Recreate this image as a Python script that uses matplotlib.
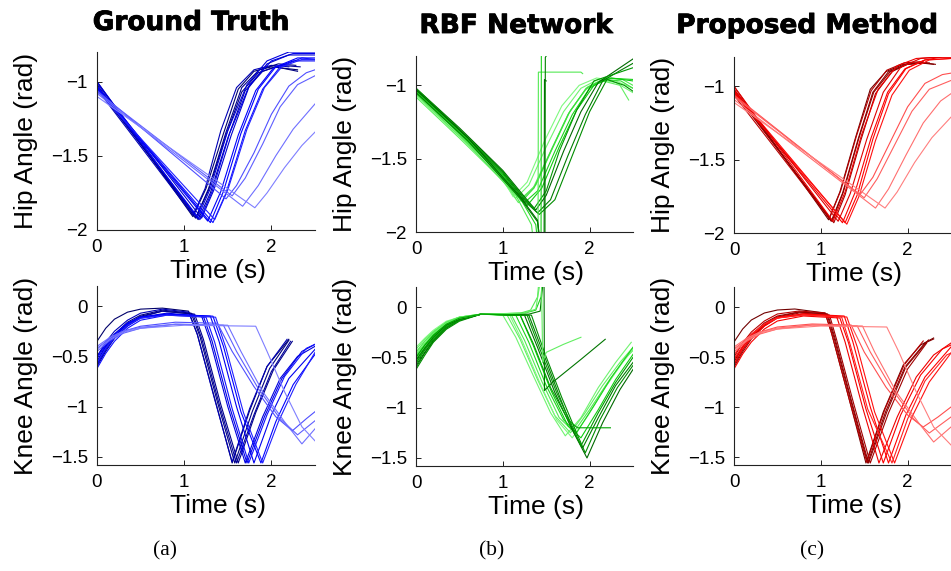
import matplotlib
matplotlib.use('Agg')
import matplotlib.pyplot as plt
import numpy as np
from matplotlib import patheffects as pe

# ---------------- data ----------------
column_titles = ['Ground Truth', 'RBF Network', 'Proposed Method']
captions = ['(a)', '(b)', '(c)']
x_ticks = [0, 1, 2]
x_tick_labels = ['0', '1', '2']
hip_ticks = [-2, -1.5, -1]
hip_tick_labels = ['\u22122', '\u22121.5', '\u22121']
knee_ticks = [-1.5, -1, -0.5, 0]
knee_tick_labels = ['\u22121.5', '\u22121', '\u22120.5', '0']

# Ground truth hip (time knots, values, shade 0=dark..1=light)
gt_hip_t = [
    [0, 1.10, 1.25, 1.45, 1.62, 1.80, 2.00, 2.30],
    [0, 1.13, 1.28, 1.48, 1.66, 1.85, 2.05, 2.30],
    [0, 1.16, 1.30, 1.50, 1.70, 1.90, 2.10, 2.33],
    [0, 1.10, 1.24, 1.42, 1.60, 1.80, 2.00, 2.20],
    [0, 1.14, 1.28, 1.48, 1.66, 1.86, 2.08, 2.28],
    [0, 1.15, 1.30, 1.50, 1.72, 1.95, 2.20, 2.50],
    [0, 1.18, 1.32, 1.52, 1.75, 2.00, 2.25, 2.50],
    [0, 1.20, 1.34, 1.54, 1.74, 1.95, 2.20, 2.50],
    [0, 1.30, 1.45, 1.65, 1.85, 2.05, 2.30, 2.50],
    [0, 1.33, 1.48, 1.70, 1.90, 2.10, 2.35, 2.50],
    [0, 1.27, 1.42, 1.62, 1.82, 2.02, 2.25, 2.50],
    [0, 1.35, 1.50, 1.72, 1.92, 2.12, 2.35, 2.50],
    [0, 1.48, 1.60, 1.80, 2.00, 2.20, 2.40, 2.50],
    [0, 1.55, 1.70, 1.90, 2.10, 2.30, 2.50],
    [0, 1.67, 1.85, 2.05, 2.25, 2.50],
    [0, 1.81, 1.95, 2.15, 2.35, 2.50],
]
gt_hip_v = [
    [-1.00, -1.91, -1.72, -1.35, -1.05, -0.93, -0.90, -0.92],
    [-1.02, -1.92, -1.73, -1.36, -1.07, -0.94, -0.90, -0.93],
    [-1.04, -1.93, -1.75, -1.38, -1.06, -0.93, -0.89, -0.90],
    [-1.05, -1.90, -1.72, -1.33, -1.04, -0.92, -0.89, -0.90],
    [-1.03, -1.91, -1.72, -1.34, -1.04, -0.92, -0.88, -0.89],
    [-1.00, -1.92, -1.72, -1.33, -1.02, -0.86, -0.80, -0.80],
    [-1.03, -1.93, -1.74, -1.35, -1.02, -0.86, -0.81, -0.81],
    [-1.01, -1.92, -1.73, -1.36, -1.04, -0.88, -0.82, -0.82],
    [-1.03, -1.95, -1.74, -1.35, -1.05, -0.90, -0.84, -0.84],
    [-1.05, -1.95, -1.75, -1.33, -1.05, -0.90, -0.84, -0.85],
    [-1.04, -1.94, -1.74, -1.36, -1.06, -0.91, -0.86, -0.86],
    [-1.06, -1.93, -1.73, -1.32, -1.04, -0.90, -0.85, -0.85],
    [-1.06, -1.79, -1.70, -1.48, -1.22, -1.03, -0.94, -0.92],
    [-1.07, -1.77, -1.65, -1.42, -1.17, -1.02, -0.96],
    [-1.08, -1.84, -1.70, -1.50, -1.32, -1.15],
    [-1.10, -1.85, -1.75, -1.58, -1.43, -1.34],
]
gt_hip_shade = [0.05, 0.12, 0.2, 0.28, 0.15, 0.4, 0.45, 0.35, 0.5, 0.55, 0.48, 0.6,
                0.75, 0.8, 0.85, 0.9]

gt_knee_t = [
    [0, 0.1, 0.2, 0.35, 0.5, 0.75, 1.05, 1.15, 1.35, 1.55, 1.75, 1.95, 2.20],
    [0, 0.1, 0.2, 0.35, 0.5, 0.75, 1.08, 1.18, 1.38, 1.58, 1.78, 1.98, 2.20],
    [0, 0.1, 0.2, 0.35, 0.5, 0.75, 1.10, 1.20, 1.40, 1.60, 1.80, 2.00, 2.22],
    [0, 0.1, 0.2, 0.35, 0.5, 0.75, 1.05, 1.15, 1.35, 1.55, 1.75, 1.95, 2.18],
    [0, 0.1, 0.2, 0.35, 0.5, 0.75, 1.12, 1.22, 1.42, 1.62, 1.82, 2.02, 2.24],
    [0, 0.1, 0.2, 0.35, 0.5, 0.80, 1.20, 1.30, 1.50, 1.70, 1.90, 2.10, 2.30, 2.50],
    [0, 0.1, 0.2, 0.35, 0.5, 0.80, 1.22, 1.32, 1.52, 1.72, 1.92, 2.12, 2.35, 2.50],
    [0, 0.1, 0.2, 0.35, 0.5, 0.80, 1.30, 1.40, 1.60, 1.80, 2.00, 2.20, 2.50],
    [0, 0.1, 0.2, 0.35, 0.5, 0.80, 1.33, 1.45, 1.65, 1.88, 2.05, 2.25, 2.50],
    [0, 0.1, 0.2, 0.35, 0.5, 0.80, 1.25, 1.35, 1.55, 1.74, 1.95, 2.15, 2.40, 2.50],
    [0, 0.1, 0.2, 0.35, 0.5, 0.80, 1.36, 1.48, 1.68, 1.90, 2.08, 2.28, 2.50],
    [0, 0.15, 0.3, 0.5, 0.9, 1.38, 1.55, 1.80, 2.05, 2.24, 2.40, 2.50],
    [0, 0.15, 0.3, 0.5, 0.9, 1.45, 1.60, 1.85, 2.10, 2.30, 2.50],
    [0, 0.15, 0.3, 0.5, 0.9, 1.50, 1.65, 1.90, 2.15, 2.35, 2.50],
    [0, 0.15, 0.3, 0.5, 1.0, 1.82, 1.95, 2.15, 2.35, 2.50],
]
gt_knee_v = [
    [-0.35, -0.22, -0.13, -0.06, -0.03, -0.02, -0.05, -0.28, -0.92, -1.56, -1.04, -0.60, -0.33],
    [-0.55, -0.40, -0.28, -0.16, -0.09, -0.04, -0.07, -0.30, -0.95, -1.56, -1.05, -0.62, -0.34],
    [-0.60, -0.45, -0.32, -0.19, -0.11, -0.05, -0.08, -0.32, -0.97, -1.56, -1.08, -0.65, -0.35],
    [-0.50, -0.36, -0.25, -0.14, -0.07, -0.03, -0.06, -0.28, -0.93, -1.55, -1.02, -0.60, -0.33],
    [-0.58, -0.43, -0.30, -0.18, -0.10, -0.05, -0.08, -0.33, -0.98, -1.56, -1.06, -0.64, -0.35],
    [-0.55, -0.41, -0.30, -0.18, -0.11, -0.07, -0.10, -0.35, -1.00, -1.56, -1.10, -0.72, -0.50, -0.40],
    [-0.50, -0.38, -0.28, -0.17, -0.11, -0.08, -0.10, -0.35, -1.00, -1.56, -1.10, -0.72, -0.45, -0.38],
    [-0.58, -0.43, -0.32, -0.20, -0.12, -0.08, -0.10, -0.35, -1.00, -1.56, -1.08, -0.72, -0.43],
    [-0.52, -0.39, -0.28, -0.17, -0.11, -0.08, -0.10, -0.40, -1.05, -1.56, -1.15, -0.78, -0.48],
    [-0.62, -0.47, -0.35, -0.22, -0.14, -0.09, -0.11, -0.36, -1.02, -1.56, -1.08, -0.70, -0.42, -0.38],
    [-0.56, -0.42, -0.31, -0.19, -0.12, -0.09, -0.11, -0.42, -1.06, -1.56, -1.15, -0.78, -0.46],
    [-0.42, -0.32, -0.25, -0.20, -0.16, -0.17, -0.45, -0.80, -1.10, -1.24, -1.12, -1.05],
    [-0.45, -0.34, -0.27, -0.22, -0.18, -0.19, -0.45, -0.82, -1.12, -1.28, -1.14],
    [-0.40, -0.31, -0.25, -0.21, -0.18, -0.19, -0.45, -0.85, -1.15, -1.37, -1.22],
    [-0.43, -0.33, -0.26, -0.22, -0.19, -0.20, -0.45, -0.85, -1.20, -1.34],
]
gt_knee_shade = [0.05, 0.12, 0.2, 0.28, 0.15, 0.4, 0.42, 0.45, 0.5, 0.55, 0.6,
                 0.75, 0.8, 0.85, 0.9]

# RBF network hip
rbf_hip_t = [
    [0, 0.5, 1.0, 1.15, 1.30, 1.50, 1.70, 1.90, 2.10, 2.30, 2.50],
    [0, 0.5, 1.0, 1.18, 1.35, 1.55, 1.75, 1.95, 2.15, 2.35, 2.45],
    [0, 0.5, 1.0, 1.20, 1.38, 1.58, 1.78, 1.98, 2.18, 2.38, 2.50],
    [0, 0.5, 1.0, 1.12, 1.28, 1.48, 1.68, 1.88, 2.08, 2.30, 2.50],
    [0, 0.5, 1.0, 1.22, 1.36, 1.56, 1.76, 1.96, 2.16, 2.36, 2.50],
    [0, 0.5, 1.0, 1.25, 1.40, 1.60, 1.80, 2.00, 2.20, 2.50],
    [0, 0.5, 1.0, 1.28, 1.45, 1.65, 1.85, 2.05, 2.25, 2.50],
    [0, 0.5, 1.0, 1.25, 1.38, 1.50, 1.70, 1.90, 2.10, 2.30, 2.50],
    [0, 0.5, 1.0, 1.25, 1.40, 1.55, 1.75, 1.95, 2.15, 2.35, 2.50],
    [0, 0.5, 1.0, 1.25, 1.42, 1.60, 1.80, 2.00, 2.20, 2.40, 2.50],
    [0, 0.5, 1.0, 1.25, 1.36, 1.50, 1.65, 1.85, 2.05, 2.25, 2.50],
    [0, 0.6, 1.15, 1.33, 1.40, 1.405, 1.41, 1.90, 1.92],
    [0, 0.6, 1.20, 1.38, 1.44, 1.445],
    [0, 0.6, 1.20, 1.40, 1.47, 1.475, 1.48, 1.50],
    [0, 0.6, 1.20, 1.40, 1.48, 1.485, 1.49, 1.51],
]
rbf_hip_v = [
    [-1.06, -1.32, -1.62, -1.77, -1.68, -1.42, -1.18, -1.02, -0.96, -0.98, -1.05],
    [-1.08, -1.36, -1.65, -1.80, -1.70, -1.45, -1.20, -1.03, -0.97, -1.00, -1.10],
    [-1.05, -1.33, -1.62, -1.78, -1.68, -1.42, -1.17, -1.01, -0.95, -0.96, -1.00],
    [-1.07, -1.35, -1.64, -1.76, -1.66, -1.38, -1.14, -1.00, -0.95, -0.97, -1.02],
    [-1.05, -1.33, -1.63, -1.79, -1.70, -1.44, -1.19, -1.02, -0.96, -0.97, -1.02],
    [-1.04, -1.32, -1.62, -1.80, -1.72, -1.45, -1.20, -1.02, -0.95, -0.96],
    [-1.03, -1.31, -1.61, -1.82, -1.70, -1.42, -1.17, -1.00, -0.95, -0.97],
    [-1.02, -1.29, -1.58, -1.76, -1.85, -1.75, -1.45, -1.18, -0.98, -0.90, -0.82],
    [-1.03, -1.30, -1.59, -1.78, -1.87, -1.78, -1.48, -1.20, -0.97, -0.90, -0.85],
    [-1.04, -1.31, -1.60, -1.79, -1.88, -1.78, -1.48, -1.18, -0.96, -1.00, -1.04],
    [-1.02, -1.30, -1.59, -1.77, -1.84, -1.72, -1.45, -1.17, -0.97, -0.93, -0.88],
    [-1.06, -1.40, -1.75, -1.95, -2.30, -2.30, -0.91, -0.91, -0.92],
    [-1.04, -1.37, -1.77, -1.95, -2.30, -0.50],
    [-1.03, -1.36, -1.76, -1.92, -2.30, -2.30, -0.96, -0.97],
    [-1.05, -1.38, -1.77, -1.93, -2.30, -2.30, -0.81, -0.79],
]
rbf_hip_shade = [0.9, 0.85, 0.8, 0.95, 0.7, 0.6, 0.55, 0.1, 0.18, 0.25, 0.3, 0.8, 0.6, 0.1, 0.2]

rbf_knee_t = [
    [0, 0.1, 0.2, 0.35, 0.5, 0.75, 1.00, 1.15, 1.35, 1.55, 1.72, 1.90, 2.10, 2.30, 2.48],
    [0, 0.1, 0.2, 0.35, 0.5, 0.75, 1.05, 1.20, 1.40, 1.60, 1.78, 1.95, 2.15, 2.35, 2.50],
    [0, 0.1, 0.2, 0.35, 0.5, 0.75, 1.10, 1.25, 1.45, 1.65, 1.82, 2.00, 2.20, 2.40, 2.50],
    [0, 0.1, 0.2, 0.35, 0.5, 0.75, 1.08, 1.22, 1.42, 1.62, 1.80, 1.98, 2.18, 2.38, 2.50],
    [0, 0.1, 0.2, 0.35, 0.5, 0.75, 1.15, 1.30, 1.50, 1.70, 1.85, 2.05, 2.25, 2.50],
    [0, 0.1, 0.2, 0.35, 0.5, 0.75, 1.20, 1.35, 1.55, 1.75, 1.90, 2.10, 2.30, 2.50],
    [0, 0.1, 0.2, 0.35, 0.5, 0.75, 1.25, 1.40, 1.60, 1.80, 1.97, 2.15, 2.35, 2.50],
    [0, 0.1, 0.2, 0.35, 0.5, 0.75, 1.30, 1.45, 1.65, 1.82, 1.92, 2.10, 2.30, 2.50],
    [0, 0.1, 0.2, 0.35, 0.5, 0.75, 1.33, 1.48, 1.68, 1.85, 1.95, 2.12, 2.32, 2.50],
    [0, 0.1, 0.2, 0.35, 0.5, 0.75, 1.28, 1.42, 1.62, 1.82, 1.90, 2.10, 2.30, 2.50],
    [0, 0.1, 0.2, 0.35, 0.5, 0.75, 1.20, 1.32, 1.40, 1.42],
    [0, 0.1, 0.2, 0.35, 0.5, 0.75, 1.25, 1.38, 1.44, 1.46],
    [0, 0.1, 0.2, 0.35, 0.5, 0.75, 1.30, 1.43, 1.47, 1.475, 1.48, 1.57, 1.90, 2.18],
    [0, 0.1, 0.2, 0.35, 0.5, 0.75, 1.25, 1.38, 1.44, 1.445, 1.46, 1.50, 1.70, 1.90],
    [0, 0.1, 0.2, 0.35, 0.5, 0.75, 1.20, 1.35, 1.55, 1.75, 1.86, 2.24],
]
rbf_knee_v = [
    [-0.45, -0.34, -0.25, -0.15, -0.10, -0.07, -0.08, -0.30, -0.68, -1.05, -1.28, -1.10, -0.80, -0.55, -0.35],
    [-0.42, -0.32, -0.24, -0.15, -0.10, -0.07, -0.08, -0.32, -0.72, -1.08, -1.25, -1.05, -0.78, -0.55, -0.40],
    [-0.48, -0.37, -0.27, -0.17, -0.11, -0.07, -0.08, -0.33, -0.74, -1.10, -1.24, -1.02, -0.76, -0.52, -0.43],
    [-0.40, -0.31, -0.23, -0.14, -0.10, -0.07, -0.08, -0.33, -0.74, -1.12, -1.30, -1.08, -0.80, -0.55, -0.42],
    [-0.52, -0.40, -0.29, -0.18, -0.12, -0.07, -0.08, -0.35, -0.78, -1.12, -1.25, -0.98, -0.70, -0.40],
    [-0.55, -0.42, -0.31, -0.19, -0.12, -0.07, -0.08, -0.38, -0.82, -1.18, -1.30, -1.02, -0.72, -0.47],
    [-0.58, -0.45, -0.33, -0.20, -0.13, -0.07, -0.08, -0.40, -0.85, -1.22, -1.50, -1.15, -0.82, -0.62],
    [-0.60, -0.46, -0.34, -0.21, -0.13, -0.07, -0.08, -0.42, -0.88, -1.25, -1.40, -1.10, -0.78, -0.55],
    [-0.62, -0.48, -0.35, -0.22, -0.14, -0.07, -0.08, -0.45, -0.90, -1.25, -1.45, -1.12, -0.80, -0.58],
    [-0.56, -0.43, -0.32, -0.20, -0.13, -0.07, -0.08, -0.40, -0.85, -1.22, -1.38, -1.05, -0.75, -0.50],
    [-0.45, -0.34, -0.25, -0.15, -0.10, -0.07, -0.06, -0.03, 0.10, 0.30],
    [-0.50, -0.38, -0.28, -0.17, -0.11, -0.07, -0.06, -0.03, 0.10, 0.30],
    [-0.53, -0.41, -0.30, -0.18, -0.12, -0.07, -0.07, -0.04, 0.30, 0.30, -0.83, -0.75, -0.52, -0.32],
    [-0.47, -0.36, -0.26, -0.16, -0.11, -0.07, -0.06, -0.02, 0.30, 0.30, -0.55, -0.45, -0.37, -0.30],
    [-0.50, -0.38, -0.28, -0.17, -0.11, -0.07, -0.08, -0.36, -0.80, -1.12, -1.20, -1.20],
]
rbf_knee_shade = [0.9, 0.85, 0.8, 0.95, 0.6, 0.55, 0.1, 0.18, 0.25, 0.3, 0.8, 0.6, 0.15, 0.85, 0.35]

# Proposed method hip
pm_hip_t = [
    [0, 1.09, 1.22, 1.40, 1.57, 1.75, 1.95, 2.15, 2.30],
    [0, 1.12, 1.25, 1.43, 1.60, 1.78, 1.98, 2.20, 2.32],
    [0, 1.15, 1.28, 1.46, 1.63, 1.82, 2.02, 2.25],
    [0, 1.10, 1.23, 1.41, 1.58, 1.76, 1.96, 2.18],
    [0, 1.13, 1.26, 1.44, 1.61, 1.80, 2.00, 2.22],
    [0, 1.14, 1.28, 1.47, 1.66, 1.88, 2.10, 2.35, 2.50],
    [0, 1.28, 1.42, 1.60, 1.78, 1.98, 2.20, 2.40, 2.50],
    [0, 1.30, 1.44, 1.63, 1.82, 2.02, 2.25, 2.50],
    [0, 1.25, 1.39, 1.58, 1.77, 1.97, 2.20, 2.50],
    [0, 1.20, 1.34, 1.53, 1.72, 1.92, 2.15, 2.40, 2.50],
    [0, 1.45, 1.60, 1.80, 2.00, 2.20, 2.40, 2.50],
    [0, 1.50, 1.65, 1.85, 2.05, 2.25, 2.50],
    [0, 1.63, 1.78, 1.98, 2.18, 2.38, 2.50],
    [0, 1.74, 1.88, 2.08, 2.28, 2.50],
]
pm_hip_v = [
    [-1.00, -1.91, -1.72, -1.35, -1.02, -0.90, -0.85, -0.84, -0.85],
    [-1.02, -1.92, -1.73, -1.36, -1.04, -0.90, -0.85, -0.84, -0.85],
    [-1.04, -1.93, -1.74, -1.37, -1.05, -0.90, -0.84, -0.84],
    [-1.06, -1.90, -1.71, -1.34, -1.03, -0.89, -0.84, -0.83],
    [-1.03, -1.92, -1.72, -1.35, -1.04, -0.90, -0.85, -0.84],
    [-1.00, -1.92, -1.72, -1.33, -1.02, -0.86, -0.81, -0.80, -0.80],
    [-1.03, -1.93, -1.74, -1.36, -1.05, -0.88, -0.82, -0.80, -0.80],
    [-1.05, -1.94, -1.75, -1.37, -1.06, -0.89, -0.82, -0.81],
    [-1.04, -1.93, -1.73, -1.35, -1.04, -0.88, -0.82, -0.81],
    [-1.02, -1.92, -1.73, -1.36, -1.04, -0.87, -0.81, -0.80, -0.80],
    [-1.06, -1.74, -1.62, -1.38, -1.14, -0.98, -0.92, -0.91],
    [-1.07, -1.76, -1.63, -1.40, -1.17, -1.02, -0.96],
    [-1.09, -1.83, -1.70, -1.47, -1.25, -1.10, -1.05],
    [-1.11, -1.83, -1.72, -1.52, -1.35, -1.21],
]
pm_hip_shade = [0.05, 0.12, 0.2, 0.28, 0.16, 0.45, 0.5, 0.55, 0.48, 0.4, 0.75, 0.8, 0.85, 0.9]

pm_knee_t = [
    [0, 0.1, 0.2, 0.35, 0.5, 0.70, 1.05, 1.12, 1.32, 1.52, 1.72, 1.95, 2.15, 2.30],
    [0, 0.1, 0.2, 0.35, 0.5, 0.75, 1.07, 1.15, 1.35, 1.54, 1.75, 1.97, 2.20, 2.30],
    [0, 0.1, 0.2, 0.35, 0.5, 0.75, 1.10, 1.18, 1.38, 1.57, 1.78, 2.00, 2.22],
    [0, 0.1, 0.2, 0.35, 0.5, 0.75, 1.05, 1.13, 1.33, 1.53, 1.74, 1.96, 2.18],
    [0, 0.1, 0.2, 0.35, 0.5, 0.75, 1.08, 1.16, 1.36, 1.55, 1.76, 1.98, 2.24],
    [0, 0.1, 0.2, 0.35, 0.5, 0.80, 1.18, 1.28, 1.48, 1.67, 1.88, 2.10, 2.30, 2.50],
    [0, 0.1, 0.2, 0.35, 0.5, 0.80, 1.27, 1.37, 1.57, 1.78, 1.98, 2.20, 2.50],
    [0, 0.1, 0.2, 0.35, 0.5, 0.80, 1.30, 1.42, 1.62, 1.85, 2.05, 2.25, 2.50],
    [0, 0.1, 0.2, 0.35, 0.5, 0.80, 1.22, 1.32, 1.52, 1.72, 1.92, 2.15, 2.40, 2.50],
    [0, 0.1, 0.2, 0.35, 0.5, 0.80, 1.24, 1.34, 1.54, 1.82, 2.00, 2.20, 2.45, 2.50],
    [0, 0.15, 0.3, 0.5, 0.9, 1.35, 1.50, 1.75, 2.00, 2.18, 2.35, 2.50],
    [0, 0.15, 0.3, 0.5, 0.9, 1.42, 1.57, 1.82, 2.07, 2.25, 2.50],
    [0, 0.15, 0.3, 0.5, 0.9, 1.48, 1.62, 1.87, 2.12, 2.30, 2.50],
    [0, 0.15, 0.3, 0.5, 1.0, 1.76, 1.90, 2.10, 2.30, 2.50],
]
pm_knee_v = [
    [-0.35, -0.22, -0.13, -0.06, -0.03, -0.02, -0.06, -0.25, -0.90, -1.56, -1.05, -0.58, -0.38, -0.31],
    [-0.55, -0.40, -0.28, -0.16, -0.09, -0.05, -0.07, -0.30, -0.95, -1.56, -1.04, -0.60, -0.36, -0.32],
    [-0.60, -0.45, -0.32, -0.19, -0.11, -0.06, -0.08, -0.32, -0.97, -1.56, -1.06, -0.62, -0.36],
    [-0.50, -0.36, -0.25, -0.14, -0.07, -0.04, -0.06, -0.28, -0.93, -1.55, -1.02, -0.58, -0.34],
    [-0.58, -0.43, -0.30, -0.18, -0.10, -0.05, -0.07, -0.30, -0.96, -1.56, -1.05, -0.60, -0.33],
    [-0.53, -0.40, -0.29, -0.17, -0.10, -0.07, -0.09, -0.35, -1.00, -1.56, -1.10, -0.70, -0.48, -0.36],
    [-0.57, -0.42, -0.31, -0.19, -0.11, -0.07, -0.09, -0.35, -1.00, -1.56, -1.08, -0.70, -0.40],
    [-0.52, -0.39, -0.28, -0.17, -0.11, -0.08, -0.10, -0.40, -1.05, -1.56, -1.10, -0.75, -0.46],
    [-0.62, -0.47, -0.35, -0.22, -0.14, -0.09, -0.11, -0.36, -1.02, -1.56, -1.08, -0.68, -0.42, -0.38],
    [-0.48, -0.36, -0.27, -0.17, -0.11, -0.08, -0.10, -0.38, -1.02, -1.56, -1.12, -0.74, -0.48, -0.46],
    [-0.42, -0.32, -0.25, -0.20, -0.17, -0.18, -0.45, -0.80, -1.08, -1.20, -1.10, -1.00],
    [-0.45, -0.34, -0.27, -0.22, -0.18, -0.19, -0.45, -0.82, -1.12, -1.26, -1.10],
    [-0.40, -0.31, -0.25, -0.21, -0.18, -0.19, -0.45, -0.85, -1.15, -1.35, -1.20],
    [-0.43, -0.33, -0.26, -0.22, -0.19, -0.20, -0.45, -0.85, -1.20, -1.38],
]
pm_knee_shade = [0.05, 0.12, 0.2, 0.28, 0.16, 0.45, 0.5, 0.55, 0.48, 0.6, 0.75, 0.8, 0.85, 0.9]

# ---------------- style / layout ----------------
W, H = 951, 571
fig = plt.figure(figsize=(W / 100, H / 100), dpi=100)
FONT = 'Liberation Sans'

def rect(l, r, t, b):
    return [l / W, 1 - b / H, (r - l) / W, (b - t) / H]

def shade_color(base, dark, light, s):
    base = np.array(base, float); dark = np.array(dark, float); light = np.array(light, float)
    if s < 0.5:
        c = dark + (base - dark) * (s / 0.5)
    else:
        c = base + (light - base) * ((s - 0.5) / 0.5)
    return tuple(np.clip(c, 0, 1))

palettes = [
    ((0, 0, 1), (0, 0, 0.35), (0.62, 0.62, 1)),
    ((0, 0.78, 0), (0, 0.32, 0), (0.55, 1, 0.55)),
    ((1, 0, 0), (0.38, 0, 0), (1, 0.62, 0.62)),
]

col_x = [(97, 315), (416, 633), (734, 951)]
top_y = [(52, 230), (56, 232), (57, 233)]
bot_y = [(286, 465), (287, 466), (287, 465)]

hip_sets = [(gt_hip_t, gt_hip_v, gt_hip_shade), (rbf_hip_t, rbf_hip_v, rbf_hip_shade),
            (pm_hip_t, pm_hip_v, pm_hip_shade)]
knee_sets = [(gt_knee_t, gt_knee_v, gt_knee_shade), (rbf_knee_t, rbf_knee_v, rbf_knee_shade),
             (pm_knee_t, pm_knee_v, pm_knee_shade)]

def style_axes(ax, wpx, hpx, ylim, yticks, yticklabels, ylabel):
    ax.set_xlim(0, 2.5)
    ax.set_ylim(*ylim)
    ax.set_xticks(x_ticks)
    ax.set_xticklabels(x_tick_labels, family=FONT, fontsize=13.5)
    ax.set_yticks(yticks)
    ax.set_yticklabels(yticklabels, family=FONT, fontsize=13.5)
    for s in ['top', 'right']:
        ax.spines[s].set_visible(False)
    for s in ['left', 'bottom']:
        ax.spines[s].set_color('#222222')
        ax.spines[s].set_linewidth(0.8)
    ax.tick_params(direction='in', length=3.5, width=0.7, pad=6.5, colors='#222222',
                   labelcolor='black')
    ax.set_xlabel('Time (s)', family=FONT, fontsize=19, va='baseline')
    ax.xaxis.set_label_coords(0.555, -48 / hpx)
    ax.set_ylabel(ylabel, family=FONT, fontsize=19, va='center', ha='center')
    ax.yaxis.set_label_coords(-71 / wpx, 0.5)
    ax.patch.set_visible(False)

for c in range(3):
    l, r = col_x[c]
    base, dark, light = palettes[c]
    t0, b0 = top_y[c]
    ax = fig.add_axes(rect(l, r, t0, b0))
    ts, vs, sh = hip_sets[c]
    for t, v, s in zip(ts, vs, sh):
        ax.plot(t, v, color=shade_color(base, dark, light, s), lw=0.8)
    style_axes(ax, r - l, b0 - t0, (-2, -0.8), hip_ticks, hip_tick_labels, 'Hip Angle (rad)')
    t1, b1 = bot_y[c]
    ax = fig.add_axes(rect(l, r, t1, b1))
    ts, vs, sh = knee_sets[c]
    for t, v, s in zip(ts, vs, sh):
        ax.plot(t, v, color=shade_color(base, dark, light, s), lw=0.8)
    style_axes(ax, r - l, b1 - t1, (-1.58, 0.2), knee_ticks, knee_tick_labels, 'Knee Angle (rad)')

title_pos = [(191, 30), (516, 33), (807, 33)]
for (x, y), txt in zip(title_pos, column_titles):
    fig.text(x / W, 1 - y / H, txt, family='DejaVu Sans', fontweight='bold', fontsize=19,
             ha='center', va='baseline',
             path_effects=[pe.withStroke(linewidth=0.6, foreground='black')])

cap_pos = [165, 492, 812]
for x, txt in zip(cap_pos, captions):
    fig.text(x / W, 1 - 551 / H, txt, family='Liberation Serif', fontsize=15.5,
             ha='center', va='center')

fig.savefig('out.png', dpi=100)
